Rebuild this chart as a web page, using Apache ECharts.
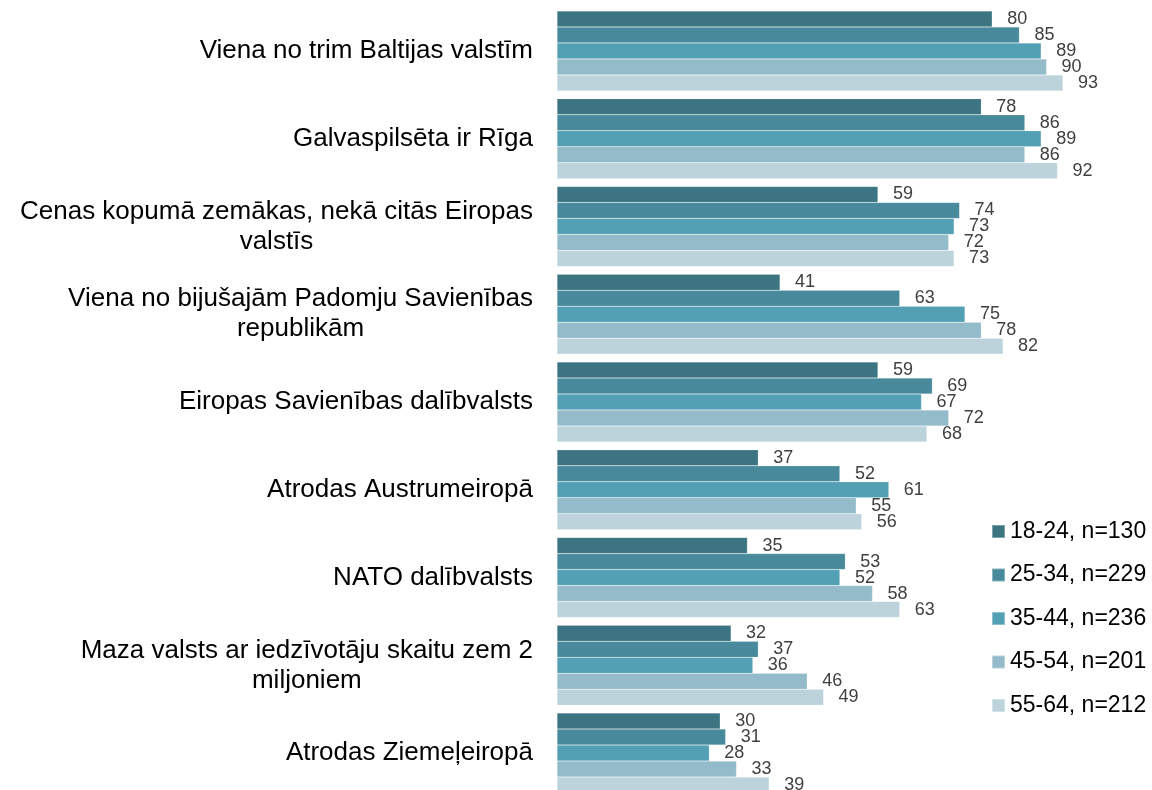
<!DOCTYPE html>
<html>
<head>
<meta charset="utf-8">
<script src="https://cdn.jsdelivr.net/npm/echarts@6/dist/echarts.min.js"></script>
<style>
  html, body { margin: 0; padding: 0; background: #fff; overflow: hidden; }
  #chart { width: 1152px; height: 800px; }
</style>
</head>
<body>
<div id="chart"></div>
<script>
const categories = [
  'Viena no trim Baltijas valstīm',
  'Galvaspilsēta ir Rīga',
  'Cenas kopumā zemākas, nekā citās Eiropas\nvalstīs',
  'Viena no bijušajām Padomju Savienības\nrepublikām',
  'Eiropas Savienības dalībvalsts',
  'Atrodas Austrumeiropā',
  'NATO dalībvalsts',
  'Maza valsts ar iedzīvotāju skaitu zem 2\nmiljoniem',
  'Atrodas Ziemeļeiropā'
]
const seriesNames = ['18-24, n=130', '25-34, n=229', '35-44, n=236', '45-54, n=201', '55-64, n=212']
const age18_24 = [80, 78, 59, 41, 59, 37, 35, 32, 30]
const age25_34 = [85, 86, 74, 63, 69, 52, 53, 37, 31]
const age35_44 = [89, 89, 73, 75, 67, 61, 52, 36, 28]
const age45_54 = [90, 86, 72, 78, 72, 55, 58, 46, 33]
const age55_64 = [93, 92, 73, 82, 68, 56, 63, 49, 39]
const colors = ['#3c7482', '#488a9c', '#539fb4', '#94bbca', '#bcd3dc']

const font = '"Liberation Sans", Arial, sans-serif'
const chart = echarts.init(document.getElementById('chart'))
const allData = [age18_24, age25_34, age35_44, age45_54, age55_64]

chart.setOption({
  animation: false,
  color: colors,
  textStyle: { fontFamily: font },
  legend: {
    orient: 'vertical',
    left: 986,
    top: 515,
    itemWidth: 13,
    itemHeight: 13,
    itemGap: 20.5,
    icon: 'rect',
    data: seriesNames,
    textStyle: { fontFamily: font, fontSize: 23, color: '#000', lineHeight: 23 }
  },
  grid: {
    left: 557,
    top: 7,
    width: 544,
    height: 790
  },
  xAxis: {
    type: 'value',
    min: 0,
    max: 100,
    show: false
  },
  yAxis: {
    type: 'category',
    inverse: true,
    data: categories,
    axisLine: { show: false },
    axisTick: { show: false },
    axisLabel: {
      margin: 24,
      formatter: v => v.split('\n').map(s => '{c|' + s + '}').join('\n'),
      rich: {
        c: { fontFamily: font, fontSize: 26, color: '#000', lineHeight: 30, align: 'center' }
      }
    }
  },
  series: seriesNames.map((name, i) => ({
    name: name,
    type: 'bar',
    data: allData[i],
    barWidth: 16,
    barGap: '0%',
    itemStyle: { borderColor: 'rgba(255,255,255,0.35)', borderWidth: 0.5 },
    label: {
      show: true,
      position: 'right',
      distance: 15,
      fontFamily: font,
      fontSize: 18,
      color: '#404040'
    }
  }))
})
</script>
</body>
</html>
